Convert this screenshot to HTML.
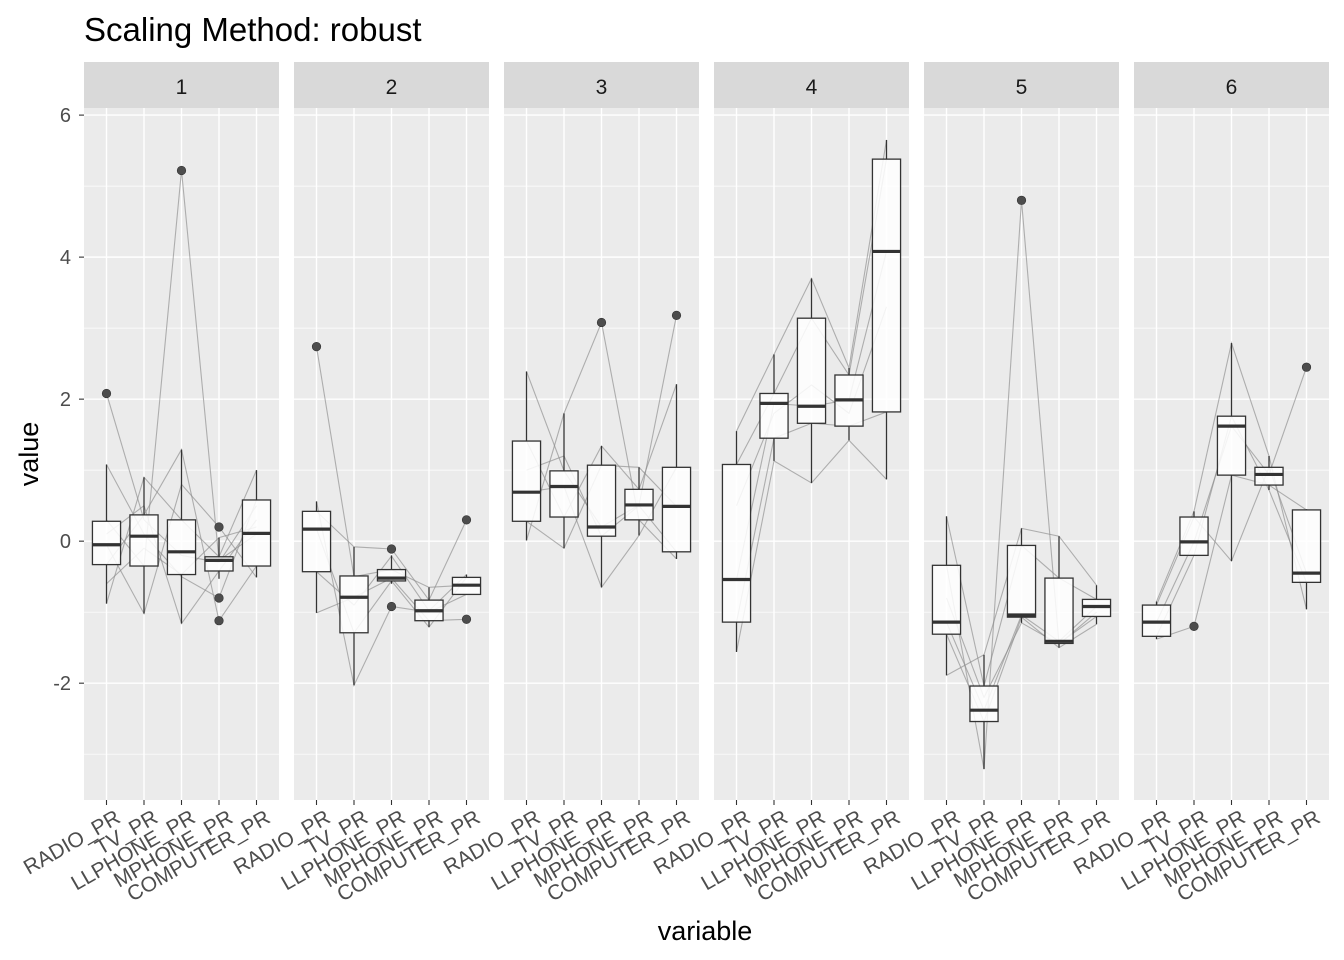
<!DOCTYPE html>
<html><head><meta charset="utf-8"><style>
body{margin:0;background:#fff}
svg{display:block;font-family:"Liberation Sans",Arial,sans-serif}
</style></head><body>
<svg id="chart" width="1344" height="960">
<text x="84" y="41" font-size="33" fill="#000">Scaling Method: robust</text>
<text x="705" y="940" font-size="27" text-anchor="middle" fill="#000">variable</text>
<text transform="translate(38,454) rotate(-90)" font-size="27" text-anchor="middle" fill="#000">value</text>
</svg>
<script>
const facets = ["1","2","3","4","5","6"];
const variables = ["RADIO_PR","TV_PR","LLPHONE_PR","MPHONE_PR","COMPUTER_PR"];
const yTicks = [-2,0,2,4,6];
// box stats per facet: [lowerWhisker, q1, median, q3, upperWhisker]
const boxStats1 = [[-0.88,-0.33,-0.05,0.28,1.08],[-1.02,-0.35,0.07,0.37,0.9],[-1.16,-0.47,-0.15,0.3,1.29],[-0.53,-0.42,-0.27,-0.22,0.05],[-0.51,-0.35,0.11,0.58,1.0]];
const boxStats2 = [[-1.01,-0.43,0.17,0.42,0.56],[-2.03,-1.29,-0.79,-0.49,-0.08],[-0.6,-0.56,-0.52,-0.4,-0.2],[-1.21,-1.12,-0.98,-0.83,-0.65],[-0.75,-0.75,-0.62,-0.51,-0.47]];
const boxStats3 = [[0.01,0.28,0.69,1.41,2.39],[-0.1,0.34,0.77,0.99,1.8],[-0.65,0.07,0.2,1.07,1.34],[0.08,0.3,0.51,0.73,1.04],[-0.25,-0.15,0.49,1.04,2.21]];
const boxStats4 = [[-1.56,-1.14,-0.54,1.08,1.55],[1.13,1.45,1.94,2.08,2.63],[0.82,1.66,1.9,3.14,3.7],[1.42,1.62,1.99,2.34,2.44],[0.87,1.82,4.08,5.38,5.65]];
const boxStats5 = [[-1.89,-1.31,-1.14,-0.34,0.35],[-3.21,-2.54,-2.38,-2.04,-1.6],[-1.15,-1.07,-1.04,-0.06,0.18],[-1.5,-1.44,-1.41,-0.52,0.07],[-1.17,-1.06,-0.92,-0.82,-0.62]];
const boxStats6 = [[-1.38,-1.34,-1.14,-0.9,-0.85],[-0.2,-0.2,-0.01,0.34,0.42],[-0.28,0.93,1.62,1.76,2.79],[0.72,0.79,0.94,1.04,1.2],[-0.96,-0.58,-0.45,0.44,0.45]];
// outliers per facet: [variableIndex, value]
const outliers1 = [[0,2.08],[2,5.22],[3,0.2],[3,-0.8],[3,-1.12]];
const outliers2 = [[0,2.74],[2,-0.11],[2,-0.92],[4,0.3],[4,-1.1]];
const outliers3 = [[2,3.08],[4,3.18]];
const outliers4 = [];
const outliers5 = [[2,4.8]];
const outliers6 = [[1,-1.2],[4,2.45]];
// individual trajectories per facet
const lines1 = [[2.08,0.3,-0.2,-0.3,0.5],[0.3,-0.35,5.22,-0.27,0.1],[1.08,0.1,-0.5,-0.8,0.58],[-0.88,0.9,0.3,-0.22,1.0],[-0.33,0.37,1.29,-1.12,-0.35],[-0.05,-1.02,0.8,0.2,-0.51],[0.1,0.5,-1.16,-0.42,0.3],[-0.6,-0.1,-0.47,0.05,0.2]];
const lines2 = [[2.74,-0.5,-0.4,-0.65,-0.62],[0.56,-2.03,-0.92,-1.0,-0.75],[0.42,-0.08,-0.11,-0.83,0.3],[-1.01,-0.79,-0.52,-1.12,-1.1],[0.17,-1.29,-0.56,-1.21,-0.51],[-0.43,-0.9,-0.21,-0.98,-0.47]];
const lines3 = [[2.39,0.99,0.2,0.51,3.18],[0.01,1.8,3.08,0.3,-0.25],[1.41,0.34,1.34,0.73,2.21],[0.69,0.77,-0.65,0.08,1.04],[0.28,-0.1,1.07,1.04,0.49],[1.0,1.2,0.07,0.5,-0.15]];
const lines4 = [[1.55,2.63,3.7,2.44,5.65],[-1.56,1.13,0.82,1.42,0.87],[1.08,2.08,3.14,2.34,5.38],[-0.54,1.94,1.9,1.99,4.08],[-1.14,1.45,1.66,1.62,1.82],[0.5,1.8,2.2,1.8,3.3]];
const lines5 = [[0.35,-2.04,-0.06,-0.52,-0.82],[-0.34,-3.21,4.8,-1.44,-1.06],[-1.14,-2.38,-1.04,-1.41,-0.92],[-1.89,-1.6,0.18,0.07,-0.62],[-1.31,-2.54,-1.07,-1.5,-1.17],[-0.8,-2.2,-1.15,-1.45,-1.0]];
const lines6 = [[-0.85,0.42,2.79,1.2,-0.96],[-1.38,-1.2,0.93,0.79,0.44],[-1.14,-0.01,1.62,0.94,2.45],[-0.9,0.34,-0.28,1.04,-0.45],[-1.34,-0.2,1.76,0.72,-0.58]];

const allBoxes=[boxStats1,boxStats2,boxStats3,boxStats4,boxStats5,boxStats6];
const allOut=[outliers1,outliers2,outliers3,outliers4,outliers5,outliers6];
const allLines=[lines1,lines2,lines3,lines4,lines5,lines6];
const NS="http://www.w3.org/2000/svg";
const svg=document.getElementById('chart');
const top0=108,bot0=800,vMin=-3.645,vMax=6.1;
function y(v){return bot0-(v-vMin)/(vMax-vMin)*(bot0-top0);}
const panelW=195,panelGap=15,left0=84,step=panelW/5.2;
function px(p){return left0+p*(panelW+panelGap);}
function x(p,i){return px(p)+(0.6+i)*step;}
function mk(tag,attrs,parent){const e=document.createElementNS(NS,tag);for(const k in attrs)e.setAttribute(k,attrs[k]);(parent||svg).appendChild(e);return e;}

yTicks.forEach(t=>{
  const tl=mk('text',{x:71,y:y(t)+7,'font-size':20,'text-anchor':'end',fill:'#4d4d4d'});
  tl.textContent=t;
  
  
  mk('line',{x1:79,x2:84,y1:y(t),y2:y(t),stroke:'#333','stroke-width':1.1});
});

facets.forEach((f,p)=>{
  const g=mk('g',{});
  
  
  const X0=px(p);
  mk('rect',{x:X0,y:top0,width:panelW,height:bot0-top0,fill:'#ebebeb'},g);
  const strip=mk('rect',{x:X0,y:62,width:panelW,height:46,fill:'#d9d9d9'},g);
  
  
  const st=mk('text',{x:X0+panelW/2,y:94,'font-size':21,'text-anchor':'middle',fill:'#1a1a1a'},g);
  st.textContent=f;
  
  
  [-3,-1,1,3,5].forEach(t=>mk('line',{x1:X0,x2:X0+panelW,y1:y(t),y2:y(t),stroke:'#fff','stroke-width':0.7},g));
  yTicks.forEach(t=>mk('line',{x1:X0,x2:X0+panelW,y1:y(t),y2:y(t),stroke:'#fff','stroke-width':1.4},g));
  variables.forEach((v,i)=>{
    mk('line',{x1:x(p,i),x2:x(p,i),y1:top0,y2:bot0,stroke:'#fff','stroke-width':1.4},g);
    mk('line',{x1:x(p,i),x2:x(p,i),y1:bot0,y2:bot0+5,stroke:'#333','stroke-width':1.1},g);
    const xl=mk('text',{'font-size':21,'text-anchor':'end','dominant-baseline':'hanging',fill:'#4d4d4d',
      transform:`translate(${x(p,i)+8},${bot0+9}) rotate(-30)`},g);
    xl.textContent=v;
    
    
  });
  allLines[p].forEach(l=>{
    const pl=mk('polyline',{points:l.map((v,i)=>x(p,i)+','+y(v)).join(' '),fill:'none',stroke:'#8c8c8c','stroke-opacity':0.65,'stroke-width':1.1},g);
    
    
  });
  const bw=step*0.75;
  allBoxes[p].forEach((s,i)=>{
    const cx=x(p,i);
    const bg=mk('g',{},g);
    
    
    mk('line',{x1:cx,x2:cx,y1:y(s[0]),y2:y(s[1]),stroke:'#333','stroke-width':1.3},bg);
    mk('line',{x1:cx,x2:cx,y1:y(s[3]),y2:y(s[4]),stroke:'#333','stroke-width':1.3},bg);
    mk('rect',{x:cx-bw/2,y:y(s[3]),width:bw,height:Math.max(0.5,y(s[1])-y(s[3])),fill:'#fff','fill-opacity':0.85,stroke:'#333','stroke-width':1.3},bg);
    mk('line',{x1:cx-bw/2,x2:cx+bw/2,y1:y(s[2]),y2:y(s[2]),stroke:'#333','stroke-width':3.2},bg);
  });
  allOut[p].forEach(o=>{
    const c=mk('circle',{cx:x(p,o[0]),cy:y(o[1]),r:4.3,fill:'#4d4d4d',stroke:'#333','stroke-width':0.6},g);
    
    
  });
});
</script>
</body></html>
